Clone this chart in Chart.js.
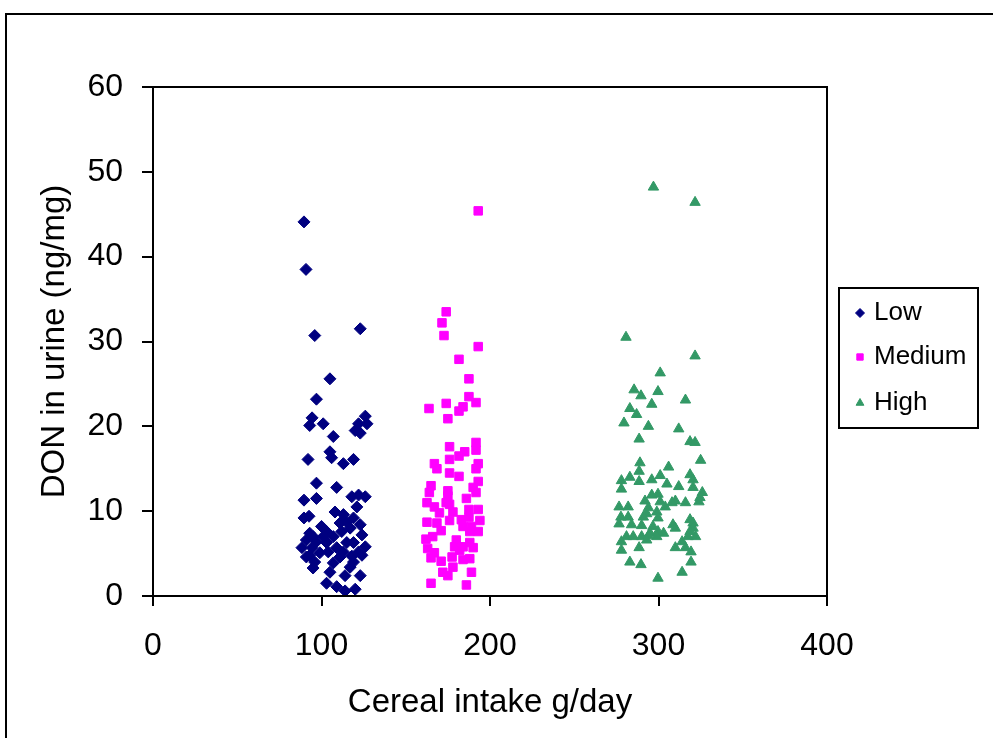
<!DOCTYPE html>
<html>
<head>
<meta charset="utf-8">
<title>DON in urine vs cereal intake</title>
<script src="https://cdn.jsdelivr.net/npm/chart.js"></script>
<style>
  html, body { margin: 0; padding: 0; background: #fff; overflow: hidden; }
  #wrap { position: relative; width: 993px; height: 738px; }
</style>
</head>
<body>
<div id="wrap"><canvas id="donChart" width="993" height="738"></canvas></div>
<script>
// [cereal intake g/day, DON ng/mg] per intake group
const lowPoints = [
  [89.6, 44.1], [90.8, 38.5], [96, 30.7], [123, 31.5], [105, 25.6], [97, 23.2],
  [94.4, 21.0], [93, 20.1], [101, 20.3], [107, 18.8], [105, 17.0], [106, 16.3],
  [113, 15.6], [119, 16.1], [92, 16.1], [126, 21.2], [122, 20.3], [127, 20.3],
  [120, 19.5], [123, 19.2], [97, 13.3], [109, 12.8], [89.6, 11.3], [97, 11.5],
  [122, 11.9], [118, 11.7], [126, 11.7], [121, 10.5], [89.6, 9.2], [92.6, 9.4],
  [108, 9.9], [113, 9.6], [115, 8.7], [111, 8.6], [119, 9.2], [123, 8.4],
  [117, 8.0], [112, 7.6], [124, 7.2], [93, 7.4], [95, 7.0], [101, 7.0],
  [107, 7.0], [91, 6.6], [97, 6.4], [103, 6.3], [119, 6.3], [126, 5.8],
  [88.4, 5.7], [94.4, 5.7], [109, 5.7], [115, 6.3], [122, 5.2], [93, 4.8],
  [99, 5.1], [104, 5.2], [113, 5.2], [111, 4.6], [118, 4.7], [124, 4.8],
  [91, 4.6], [96, 4.0], [107, 3.9], [119, 4.0], [95, 3.3], [117, 3.4],
  [105, 2.8], [114, 2.4], [123, 2.4], [103, 1.5], [109, 1.1], [114, 0.6],
  [120, 0.8], [100, 8.2], [103, 7.6]
];
const mediumPoints = [
  [193, 45.4], [174, 33.5], [171.5, 32.2], [172.7, 30.7], [193, 29.4], [181.6, 27.9],
  [187.5, 25.6], [187.5, 23.5], [191.7, 22.8], [184, 22.3], [181.6, 21.8], [174, 22.7],
  [163.8, 22.1], [175, 20.9], [176, 17.6], [191.7, 18.1], [191.7, 17.2], [185, 17.0],
  [181.6, 16.5], [176, 16.1], [167, 15.6], [193, 15.6], [168.5, 15.0], [191.7, 15.0],
  [176, 14.5], [181.6, 14.1], [193, 13.5], [165, 13.0], [190, 12.8], [164, 12.2],
  [175, 12.4], [191.7, 12.2], [175, 11.8], [186, 11.5], [162.6, 11.0], [174, 11.0],
  [167, 10.5], [176, 10.8], [187.5, 10.2], [193, 10.2], [178, 9.9], [170, 9.8],
  [187.5, 9.3], [162.6, 8.7], [168.5, 8.6], [176, 8.9], [183, 9.0], [194, 8.9],
  [184, 8.2], [189, 8.2], [171, 7.7], [193, 7.6], [188, 7.6], [162, 6.7],
  [166, 7.0], [180, 6.6], [188, 6.3], [163, 5.6], [179, 5.8], [184, 5.8],
  [190, 5.7], [167, 5.1], [182, 5.4], [165, 4.5], [171, 4.1], [177.5, 4.6],
  [184, 4.3], [188, 4.4], [172, 2.8], [178, 3.4], [189, 2.8], [175, 2.4],
  [165, 1.5], [186, 1.3]
];
const highPoints = [
  [297, 48.2], [321.7, 46.4], [280.7, 30.5], [321.7, 28.3], [301, 26.3], [285.5, 24.3],
  [299.7, 24.1], [289.6, 23.6], [316, 23.1], [296, 22.6], [283, 22.1], [287, 21.4],
  [279.5, 20.4], [294, 20.0], [312, 19.7], [288.5, 18.5], [318.7, 18.2], [321.7, 18.1],
  [325, 16.0], [289, 15.7], [306, 15.2], [288.5, 14.7], [283, 14.0], [301, 14.2],
  [288.5, 13.5], [296, 13.7], [318.7, 14.3], [278, 13.6], [305, 13.2], [320.5, 13.7],
  [278, 12.6], [312, 12.9], [320.5, 12.8], [326, 12.2], [296, 11.9], [299.7, 12.0],
  [324.6, 11.6], [292, 11.2], [301, 11.1], [310, 11.2], [308, 11.0], [324, 11.1],
  [316, 11.0], [276.6, 10.5], [282, 10.5], [294, 10.4], [304, 10.5], [299, 9.9],
  [293, 9.7], [277.7, 9.3], [282, 9.3], [291, 9.3], [299.7, 9.2], [318.7, 9.0],
  [284, 8.4], [290, 8.3], [308.6, 8.4], [320.5, 8.6], [276.6, 8.5], [296.7, 8.2],
  [310, 8.0], [320.5, 8.0], [303, 7.4], [318.7, 7.6], [295, 7.4], [299.7, 7.6],
  [281, 7.0], [285, 7.0], [290, 7.0], [294, 7.1], [299, 7.0], [322, 7.0],
  [278, 6.4], [293, 6.6], [314, 6.4], [317.5, 7.0], [278, 5.4], [288.5, 5.7],
  [310, 5.7], [316, 5.7], [319.3, 5.2], [283, 4.0], [319.3, 4.0], [289.6, 3.7],
  [314, 2.8], [299.7, 2.1]
];

const groupNames = ['Low', 'Medium', 'High'];
const groupColors = ['#000080', '#FF00FF', '#339966'];
const groupStyles = ['rectRot', 'rect', 'triangle'];
const groupRadius = [6, 6, 6];
const xTicks = [0, 100, 200, 300, 400];
const yTicks = [0, 10, 20, 30, 40, 50, 60];

const FONT = 'Liberation Sans, Arial, sans-serif';

const toXY = pts => pts.map(p => ({ x: p[0], y: p[1] }));

// outer frame + box round the plot area + legend box on the right
const framePlugin = {
  id: 'frame',
  beforeDraw(chart) {
    const ctx = chart.ctx;
    ctx.save();
    ctx.strokeStyle = '#000';
    ctx.lineWidth = 2;
    ctx.beginPath();
    ctx.moveTo(6, chart.height);
    ctx.lineTo(6, 14);
    ctx.lineTo(chart.width, 14);
    ctx.stroke();
    ctx.restore();
  },
  afterDraw(chart) {
    const ctx = chart.ctx;
    const a = chart.chartArea;
    ctx.save();
    ctx.strokeStyle = '#000';
    ctx.lineWidth = 2;
    ctx.strokeRect(a.left, a.top, a.right - a.left, a.bottom - a.top);

    // legend
    const box = { x: 839, y: 288, w: 139, h: 140 };
    ctx.lineWidth = 2;
    ctx.strokeRect(box.x, box.y, box.w, box.h);
    ctx.font = '26px ' + FONT;
    ctx.textBaseline = 'middle';
    ctx.fillStyle = '#000';
    const rows = [313, 357, 403];
    chart.data.datasets.forEach((ds, i) => {
      ctx.fillStyle = ds.backgroundColor;
      ctx.strokeStyle = ds.borderColor;
      ctx.lineWidth = 1;
      Chart.helpers.drawPoint(ctx, { pointStyle: ds.pointStyle, radius: 4.5, rotation: 0, borderWidth: 1 }, 860, rows[i]);
      ctx.fillStyle = '#000';
      ctx.fillText(ds.label, 874, rows[i]);
    });
    ctx.restore();
  }
};

new Chart(document.getElementById('donChart'), {
  type: 'scatter',
  data: {
    datasets: [lowPoints, mediumPoints, highPoints].map((pts, i) => ({
      label: groupNames[i],
      data: toXY(pts),
      pointStyle: groupStyles[i],
      pointRadius: groupRadius[i],
      backgroundColor: groupColors[i],
      borderColor: groupColors[i],
      borderWidth: 1,
    })),
  },
  options: {
    responsive: false,
    animation: false,
    layout: { padding: { left: 0, top: 87, right: 166, bottom: 0 } },
    plugins: {
      legend: { display: false },
      tooltip: { enabled: false },
    },
    scales: {
      x: {
        type: 'linear',
        min: 0,
        max: 400,
        afterFit: scale => { scale.height = 142; },
        afterBuildTicks: scale => { scale.ticks = xTicks.map(v => ({ value: v })); },
        border: { display: true, color: '#000', width: 2 },
        grid: { drawOnChartArea: false, drawTicks: true, tickLength: 10, color: '#000', lineWidth: 2 },
        ticks: { color: '#000', padding: 21, font: { family: FONT, size: 32 } },
        title: {
          display: true,
          text: 'Cereal intake g/day',
          color: '#000',
          font: { family: FONT, size: 33 },
          padding: { top: 0, bottom: 15 },
        },
      },
      y: {
        type: 'linear',
        min: 0,
        max: 60,
        afterFit: scale => { scale.width = 153; },
        afterBuildTicks: scale => { scale.ticks = yTicks.map(v => ({ value: v })); },
        border: { display: true, color: '#000', width: 2 },
        grid: { drawOnChartArea: false, drawTicks: true, tickLength: 11, color: '#000', lineWidth: 2 },
        ticks: { color: '#000', padding: 19, font: { family: FONT, size: 32 } },
        title: {
          display: true,
          text: 'DON in urine (ng/mg)',
          color: '#000',
          font: { family: FONT, size: 33 },
          padding: { top: 35, bottom: 0 },
        },
      },
    },
  },
  plugins: [framePlugin],
});
</script>
</body>
</html>
